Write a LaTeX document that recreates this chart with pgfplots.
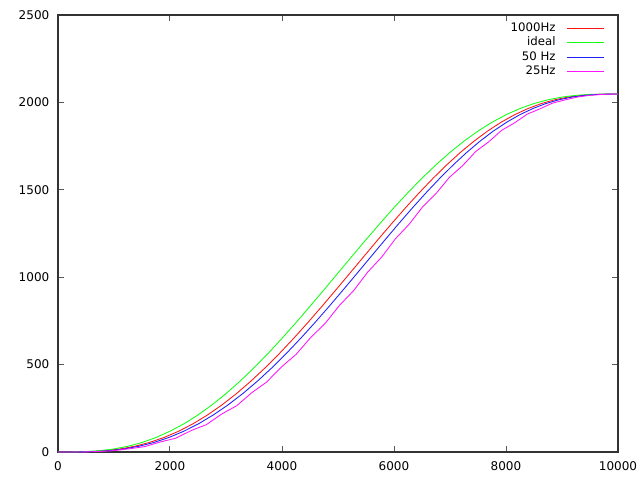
\documentclass[border=0pt]{standalone}
\usepackage{fontspec}
\setmainfont{DejaVu Sans}
\usepackage{pgfplots}
\pgfplotsset{compat=1.18}
\definecolor{gpRed}{RGB}{255,20,20}
\definecolor{gpGreen}{RGB}{20,255,20}
\definecolor{gpBlue}{RGB}{30,30,255}
\definecolor{gpMagenta}{RGB}{255,20,255}

\begin{document}
\begin{tikzpicture}
\begin{axis}[
  scale only axis,
  width=420pt, height=327.75pt,
  at={(0pt,0pt)}, anchor=south west,
  xmin=0, xmax=10000,
  ymin=0, ymax=2500,
  xtick={0,2000,...,10000},
  ytick={0,500,...,2500},
  scaled x ticks=false,
  scaled y ticks=false,
  tick align=inside,
  major tick length=4.5pt,
  axis line style={line width=1.1pt, black!80},
  tick style={line width=0.75pt, black!65},
  every tick label/.append style={font=\fontsize{9}{10.5}\selectfont},
  /pgf/number format/1000 sep={},
  /pgf/number format/assume math mode=true,
  xticklabel style={yshift=-3.7pt},
  yticklabel style={xshift=-3pt},
  legend plot pos=right,
  legend cell align=right,
  legend image code/.code={\draw[#1] (0pt,0pt) -- (27.75pt,0pt);},
  legend style={draw=none, fill=none, inner sep=0pt,
                at={(0.9762,0.9863)}, anchor=north east,
                font=\fontsize{8.8}{10}\selectfont,
                nodes={inner sep=1.25pt, text height=6.4pt, text depth=1.9pt},
                /tikz/every odd column/.append style={column sep=7pt}},
]
\addplot[gpRed, line width=0.65pt] coordinates {
  (0,0) (64,0) (326,0.3) (588,2.4) (850,7.7) (1111,17.5) (1372,32.9)
  (1633,54.5) (1893,83.0) (2153,118.6) (2412,161.6) (2671,212.0)
  (2929,269.6) (3186,334.0) (3443,404.9) (3699,481.6) (3954,563.6)
  (4208,650.1) (4461,740.3) (4713,833.3) (4965,928.2) (5215,1024.0)
  (5465,1119.8) (5713,1214.7) (5961,1307.7) (6208,1397.9) (6454,1484.4)
  (6699,1566.4) (6943,1643.1) (7186,1714.0) (7429,1778.4) (7671,1836.0)
  (7912,1886.4) (8153,1929.4) (8393,1965.0) (8633,1993.5) (8872,2015.1)
  (9111,2030.5) (9350,2040.3) (9588,2045.6) (9826,2047.7) (10064,2048.0)
};
\addlegendentry{1000Hz}

\addplot[gpGreen, line width=0.65pt] coordinates {
  (0,0) (250,0.3) (500,2.4) (750,7.7) (1000,17.5) (1250,32.9)
  (1500,54.5) (1750,83.0) (2000,118.6) (2250,161.6) (2500,212.0)
  (2750,269.6) (3000,334.0) (3250,404.9) (3500,481.6) (3750,563.6)
  (4000,650.1) (4250,740.3) (4500,833.3) (4750,928.2) (5000,1024.0)
  (5250,1119.8) (5500,1214.7) (5750,1307.7) (6000,1397.9) (6250,1484.4)
  (6500,1566.4) (6750,1643.1) (7000,1714.0) (7250,1778.4) (7500,1836.0)
  (7750,1886.4) (8000,1929.4) (8250,1965.0) (8500,1993.5) (8750,2015.1)
  (9000,2030.5) (9250,2040.3) (9500,2045.6) (9750,2047.7) (10000,2048.0)
};
\addlegendentry{ideal}

\addplot[gpBlue, line width=0.65pt] coordinates {
  (0,0) (104,0) (373,0.3) (641,2.4) (910,7.7) (1178,17.5) (1446,32.9)
  (1713,54.5) (1980,83.0) (2245,118.6) (2511,161.6) (2774,212.0)
  (3037,269.6) (3299,334.0) (3560,404.9) (3819,481.6) (4077,563.6)
  (4333,650.1) (4588,740.3) (4842,833.3) (5094,928.2) (5345,1024.0)
  (5594,1119.8) (5842,1214.7) (6088,1307.7) (6333,1397.9) (6577,1484.4)
  (6819,1566.4) (7060,1643.1) (7299,1714.0) (7537,1778.4) (7774,1836.0)
  (8011,1886.4) (8245,1929.4) (8480,1965.0) (8713,1993.5) (8946,2015.1)
  (9178,2030.5) (9410,2040.3) (9641,2045.6) (9873,2047.7) (10104,2048.0)
};
\addlegendentry{50 Hz}

\addplot[gpMagenta, line width=0.65pt] coordinates {
  (0,0) (159,0) (438,0.3) (717,2.4) (995,7.7) (1274,18.5) (1551,30.9)
  (1828,57.5) (2103,79.0) (2377,122.6) (2650,156.6) (2921,217.0)
  (3191,264.6) (3459,339.0) (3725,399.9) (3990,486.6) (4252,558.6)
  (4512,655.1) (4770,735.3) (5025,838.3) (5279,923.2) (5530,1029.0)
  (5779,1114.8) (6025,1219.7) (6270,1302.7) (6512,1402.9) (6752,1479.4)
  (6990,1571.4) (7225,1638.1) (7459,1719.0) (7691,1774.4) (7921,1840.0)
  (8150,1882.4) (8377,1932.4) (8603,1963.0) (8828,1995.5) (9051,2014.1)
  (9274,2030.5) (9495,2040.3) (9717,2045.6) (9938,2047.7) (10159,2048.0)
};
\addlegendentry{25Hz}
\end{axis}
\pgfresetboundingbox
\useasboundingbox (-43.5pt,-21pt) rectangle (436.5pt,339pt);
\end{tikzpicture}
\end{document}
